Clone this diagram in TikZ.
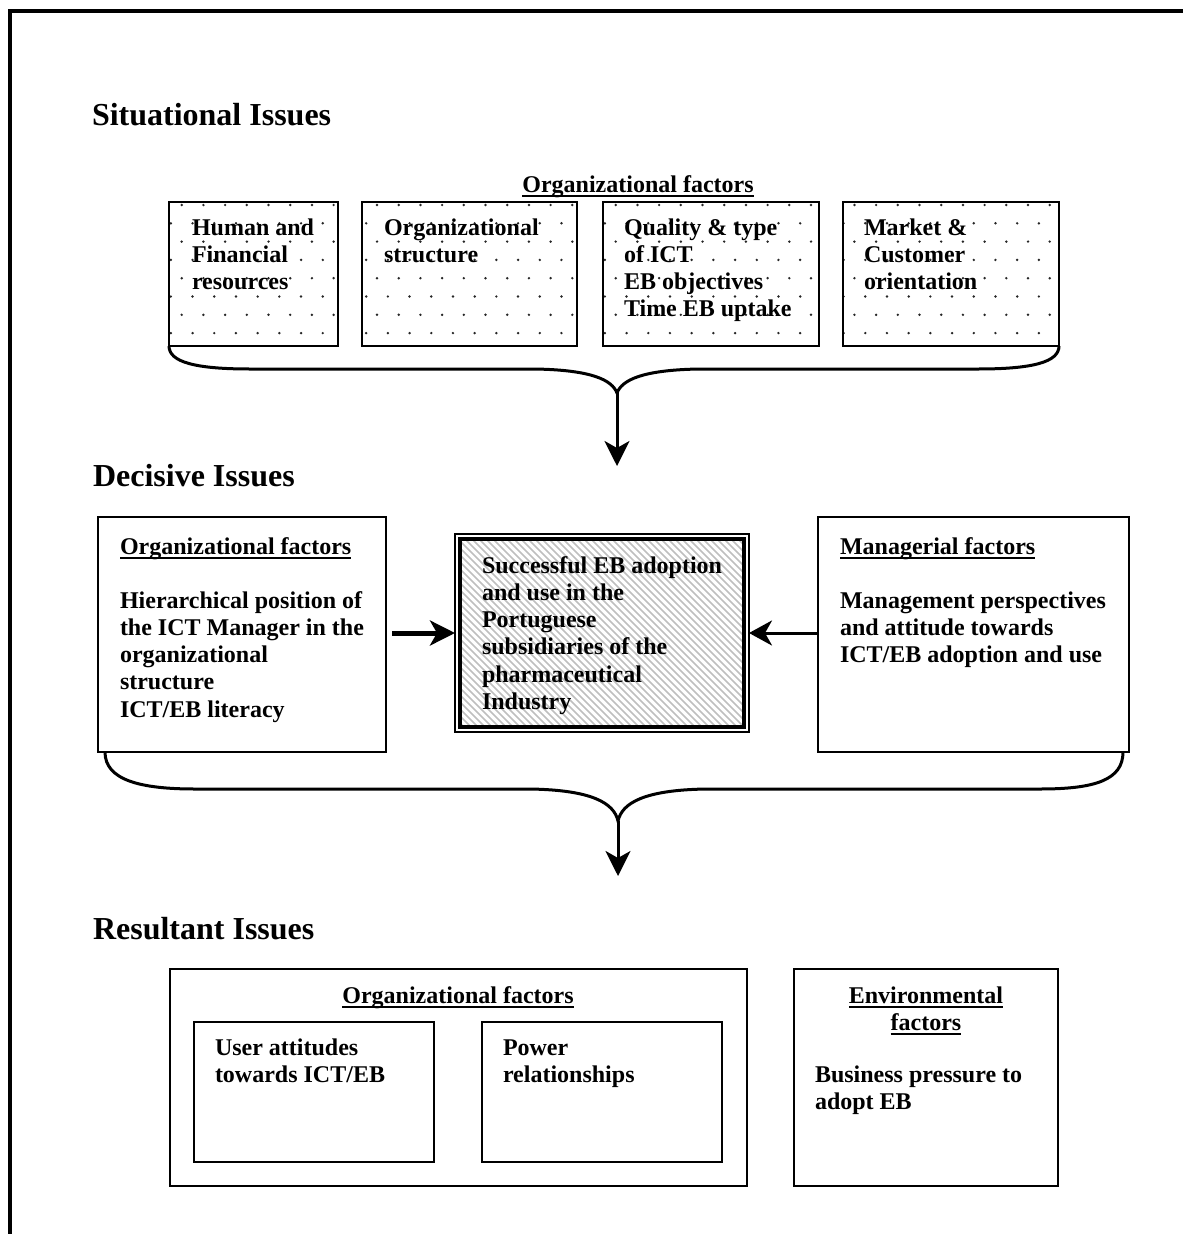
\documentclass[tikz,border=0pt]{standalone}
\usepackage{fontspec}
\setmainfont{Liberation Serif}
\usetikzlibrary{arrows.meta}
% underline that runs through descenders, Word style
\newcommand\ulword[1]{\setbox0\hbox{#1}\rlap{\rule[-5pt]{\wd0}{2.4pt}}\box0}
\begin{document}
\begin{tikzpicture}[x=1pt,y=-1pt,
  every node/.style={inner sep=0pt, outer sep=0pt},
  % multi-line nodes are placed by the baseline of their last line
  txt/.style={font=\fontsize{24}{27.3}\selectfont\bfseries, align=left, anchor=base west},
  ctxt/.style={font=\fontsize{24}{27.3}\selectfont\bfseries, align=center, anchor=base},
  head/.style={font=\fontsize{32}{36}\selectfont\bfseries, anchor=base west},
  dotbox/.style={draw, line width=2pt, anchor=north west},
  plainbox/.style={draw, line width=2pt, anchor=north west},
  brace/.style={line width=3pt},
  flow/.style={line width=3pt, -{Stealth[length=25pt,width=25pt,inset=7pt]}},
  dotfill/.style={fill=black!85},
  hatch/.style={draw=gray!50, line width=1.6pt},
]
\useasboundingbox (0,0) rectangle (1183,1234);

% outer frame
\draw[line width=4pt] (9.5,1240) -- (9.5,10.5) -- (1190,10.5);

% ---------------- situational issues ----------------
\node[head] (sit) at (92,125) {Situational Issues};
\node[ctxt] (otop) at (638,192) {\ulword{Organizational factors}};

\node[dotbox, minimum width=169, minimum height=144] (h1) at (169,202) {};
\node[dotbox, minimum width=215, minimum height=144] (h2) at (362,202) {};
\node[dotbox, minimum width=216, minimum height=144] (h3) at (603,202) {};
\node[dotbox, minimum width=216, minimum height=144] (h4) at (843,202) {};

\foreach \b in {h1,h2,h3,h4}{
  \begin{scope}
    \clip (\b.north west) rectangle (\b.south east);
    \foreach \j in {0,...,8}
      \foreach \i in {0,...,42}
        \fill[dotfill] ({160+21.7*\i+mod(\j,2)*10.85},{205+18.3*\j}) circle (1.35);
  \end{scope}
  \draw[line width=2pt] (\b.north west) rectangle (\b.south east);
}

\node[txt] (h1t) at (192,289.6) {Human and\\Financial\\resources};
\node[txt] (h2t) at (384,262.3) {Organizational\\structure};
\node[txt] (h3t) at (624,316.9) {Quality \& type\\of ICT\\EB objectives\\Time EB uptake};
\node[txt] (h4t) at (864,289.6) {Market \&\\Customer\\orientation};

\coordinate (b1tip) at (617,393);
\coordinate (b1end) at (617,466);
\draw[brace] (h1.south west) .. controls (169,362) and (195,369) .. (250,369)
  -- (535,369) .. controls (592,370) and (612,380) .. (b1tip)
  .. controls (622,380) and (642,370) .. (699,369)
  -- (978,369) .. controls (1033,369) and (1059,362) .. (h4.south east);
\draw[flow] (b1tip) -- (b1end);

% ---------------- decisive issues ----------------
\node[head] (dec) at (93,486) {Decisive Issues};

\node[plainbox, line width=2.5pt, minimum width=288, minimum height=235] (lbox) at (98,517) {};
\node[txt] (lttl) at (120,554) {\ulword{Organizational factors}};
\node[txt] (lbody) at (120,717.2) {Hierarchical position of\\the ICT Manager in the\\organizational\\structure\\ICT/EB literacy};

\node[plainbox, line width=2.5pt, minimum width=311, minimum height=235] (rbox) at (818,517) {};
\node[txt] (rttl) at (840,554) {\ulword{Managerial factors}};
\node[txt] (rbody) at (840,662.6) {Management perspectives\\and attitude towards\\ICT/EB adoption and use};

\node[draw, line width=2pt, minimum width=294, minimum height=198, anchor=north west] (ctr) at (455,534) {};
\begin{scope}
  \clip ([xshift=5pt,yshift=-5pt]ctr.north west) rectangle ([xshift=-5pt,yshift=5pt]ctr.south east);
  \foreach \k in {0,...,71}
    \draw[hatch] ({260+7*\k},530) -- ++(210,210);
\end{scope}
\draw[line width=3.5pt] ([xshift=5pt,yshift=-5pt]ctr.north west) rectangle ([xshift=-5pt,yshift=5pt]ctr.south east);
\node[txt] (ctrt) at (482,709.5) {Successful EB adoption\\and use in the\\Portuguese\\subsidiaries of the\\pharmaceutical\\Industry};

\draw[line width=5pt, -{Stealth[length=25pt,width=25pt,inset=7pt]}] ([xshift=6pt]lbox.east |- ctr.west) -- (ctr.west);
\draw[line width=3pt, -{Stealth[length=23pt,width=25pt,inset=7pt]}] (rbox.west |- ctr.east) -- (ctr.east);

\coordinate (b2tip) at (618,821);
\coordinate (b2end) at (618,876);
\draw[brace] ([xshift=7pt]lbox.south west) .. controls (105,780) and (140,789) .. (195,789)
  -- (530,789) .. controls (592,790) and (614,803) .. (b2tip)
  .. controls (622,803) and (644,790) .. (706,789)
  -- (1040,789) .. controls (1095,789) and (1123,780) .. ([xshift=-6pt]rbox.south east);
\draw[flow] (b2tip) -- (b2end);

% ---------------- resultant issues ----------------
\node[head] (res) at (93,939) {Resultant Issues};

\node[plainbox, minimum width=577, minimum height=217] (obox) at (170,969) {};
\node[ctxt] (ottl) at (458,1003) {\ulword{Organizational factors}};
\node[plainbox, minimum width=240, minimum height=140] (u1) at (194,1022) {};
\node[plainbox, minimum width=240, minimum height=140] (u2) at (482,1022) {};
\node[txt] (u1t) at (215,1082.3) {User attitudes\\towards ICT/EB};
\node[txt] (u2t) at (503,1082.3) {Power\\relationships};

\node[plainbox, minimum width=264, minimum height=217] (ebox) at (794,969) {};
\node[ctxt] (ettl) at (926,1030.3) {\ulword{Environmental}\\\ulword{factors}};
\node[txt] (ebody) at (815,1109.3) {Business pressure to\\adopt EB};

\end{tikzpicture}
\end{document}
